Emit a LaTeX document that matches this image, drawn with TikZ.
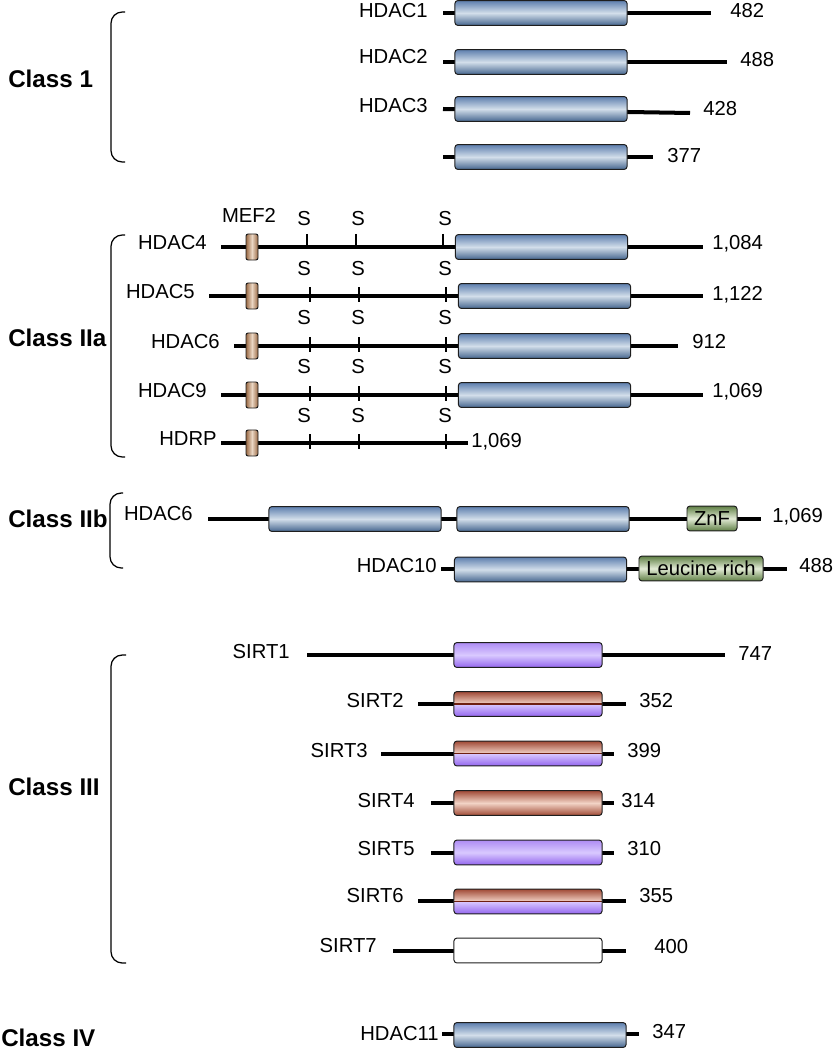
\documentclass[tikz,border=0pt]{standalone}
\usepackage{fontspec}
\setmainfont{Liberation Sans}
\usepackage{xcolor}
\definecolor{domBlueTop}{HTML}{5E7FAE}
\definecolor{domBlueMid}{HTML}{D2DEEA}
\definecolor{domBlueBot}{HTML}{46668F}
\definecolor{sirtPurpleTop}{HTML}{AE8CF4}
\definecolor{sirtPurpleMid}{HTML}{D9C9FF}
\definecolor{sirtPurpleBot}{HTML}{9366EE}
\definecolor{sirtSalmonEdge}{HTML}{A04A36}
\definecolor{sirtSalmonMid}{HTML}{F2D3C6}
\definecolor{mefBrownEdge}{HTML}{9A6A45}
\definecolor{mefBrownMid}{HTML}{EAD6C3}
\definecolor{znfGreenEdge}{HTML}{5F7F45}
\definecolor{znfGreenMid}{HTML}{E2EBD5}
\definecolor{boxBorder}{HTML}{1E1E1E}
\definecolor{dividerRed}{HTML}{6E1F10}
\usetikzlibrary{positioning}
\tikzset{
    backbone/.style={
        line width=2.85pt,
        color=black
    },
    sitetick/.style={
        line width=0.8pt,
        color=black
    },
    bracket/.style={
        line width=0.9pt,
        rounded corners=8pt
    },
    domainbox/.style={
        draw=boxBorder,
        line width=0.7pt,
        rectangle,
        rounded corners=2pt,
        inner sep=0pt,
        minimum width=4.3cm,
        minimum height=0.62cm
    },
    hdacdom/.style={
        domainbox,
        top color=domBlueTop,
        bottom color=domBlueBot,
        middle color=domBlueMid
    },
    sirtdom/.style={
        domainbox,
        minimum width=3.7cm,
        top color=sirtPurpleTop,
        bottom color=sirtPurpleBot,
        middle color=sirtPurpleMid
    },
    salmondom/.style={
        domainbox,
        minimum width=3.7cm,
        top color=sirtSalmonEdge,
        bottom color=sirtSalmonEdge,
        middle color=sirtSalmonMid
    },
    splitdom/.style={
        domainbox,
        minimum width=3.7cm,
        fill=white,
        path picture={
            \shade[top color=sirtSalmonEdge, bottom color=sirtSalmonEdge, middle color=sirtSalmonMid]
                (path picture bounding box.north west) rectangle (path picture bounding box.east);
            \shade[top color=sirtPurpleMid, bottom color=sirtPurpleBot]
                (path picture bounding box.west) rectangle (path picture bounding box.south east);
            \draw[color=dividerRed, line width=0.9pt]
                (path picture bounding box.west) -- (path picture bounding box.east);
        }
    },
    emptydom/.style={
        domainbox,
        minimum width=3.7cm,
        fill=white
    },
    mefbox/.style={
        domainbox,
        rounded corners=1.5pt,
        minimum width=0.3cm,
        minimum height=0.65cm,
        left color=mefBrownEdge,
        right color=mefBrownEdge,
        middle color=mefBrownMid
    },
    greendom/.style={
        domainbox,
        top color=znfGreenEdge,
        bottom color=znfGreenEdge,
        middle color=znfGreenMid,
        font=\fontsize{14.4}{17}\selectfont
    },
    protein/.style={
        font=\fontsize{14.4}{17}\selectfont,
        anchor=base east,
        inner sep=0pt
    },
    sizetext/.style={
        font=\fontsize{14.4}{17}\selectfont,
        anchor=base west,
        inner sep=0pt
    },
    site/.style={
        font=\fontsize{14.4}{17}\selectfont,
        anchor=base,
        inner sep=0pt
    },
    classname/.style={
        font=\fontsize{17.2}{20}\selectfont\bfseries,
        anchor=base west,
        inner sep=0pt
    }
}

\begin{document}
\begin{tikzpicture}[x=0.025cm, y=-0.025cm]
    \useasboundingbox (0,0) rectangle (833,1050);

    % Class 1
    \node[classname] (classone) at (8,88) {Class 1};
    \draw[bracket] (125,12) -- (111,12) -- (111,162) -- (125,162);
    \draw[backbone] (443,13) coordinate (h1a) -- (711,13) coordinate (h1b);
    \node[hdacdom] (h1dom) at (541,13) {};
    \node[protein] (h1name) at (428,18) {HDAC1};
    \node[sizetext] (h1size) at (730,18) {482};
    \draw[backbone] (443,62) coordinate (h2a) -- (727,62) coordinate (h2b);
    \node[hdacdom] (h2dom) at (541,62) {};
    \node[protein] (h2name) at (428,64) {HDAC2};
    \node[sizetext] (h2size) at (740,67) {488};
    \draw[backbone] (443,109) coordinate (h3a) -- (690,113) coordinate (h3b);
    \node[hdacdom] (h3dom) at (541,109) {};
    \node[protein] (h3name) at (428,113) {HDAC3};
    \node[sizetext] (h3size) at (703,116) {428};
    \draw[backbone] (443,157) coordinate (h8a) -- (653,157) coordinate (h8b);
    \node[hdacdom] (h8dom) at (541,157) {};
    \node[sizetext] (h8size) at (667,163) {377};

    % Class IIa
    \node[classname] (classtwoa) at (8,346) {Class IIa};
    \draw[bracket] (125,235) -- (111,235) -- (111,457) -- (125,457);
    \node[site] (mef) at (249,223) {MEF2};
    \foreach \y in {226,275,324,373,422}
        \foreach \x in {304,358,445}
            \node[site] (s\x\y) at (\x,\y) {S};
    \draw[backbone] (221,247) coordinate (h4a) -- (703,247) coordinate (h4b);
    \draw[backbone] (209,296) coordinate (h5a) -- (703,296) coordinate (h5b);
    \draw[backbone] (234,346) coordinate (h6a) -- (678,346) coordinate (h6b);
    \draw[backbone] (221,395) coordinate (h9a) -- (703,395) coordinate (h9b);
    \draw[backbone] (221,443) coordinate (hra) -- (468,443) coordinate (hrb);
    \foreach \x in {307,356,443}
        \draw[sitetick] (\x,234) -- (\x,247);
    \foreach \y in {296,346,395,443}
        \foreach \x in {310,359,446}
            \draw[sitetick] (\x,\y-9) -- (\x,\y+6);
    \foreach \y in {247,296,346,395,443}
        \node[mefbox] (mef\y) at (252,\y) {};
    \node[hdacdom] (h4dom) at (541.5,247) {};
    \node[hdacdom] (h5dom) at (544.5,296) {};
    \node[hdacdom] (h6dom) at (544.5,346) {};
    \node[hdacdom] (h9dom) at (544.5,395) {};
    \node[protein] (h4name) at (207,250) {HDAC4};
    \node[protein] (h5name) at (195,298) {HDAC5};
    \node[protein] (h6name) at (220,348) {HDAC6};
    \node[protein] (h9name) at (207,397) {HDAC9};
    \node[protein] (hrname) at (217,445) {HDRP};
    \node[sizetext] (h4size) at (712,250) {1,084};
    \node[sizetext] (h5size) at (712,300) {1,122};
    \node[sizetext] (h6size) at (692,348) {912};
    \node[sizetext] (h9size) at (712,397) {1,069};
    \node[sizetext] (hrsize) at (471,447) {1,069};

    % Class IIb
    \node[classname] (classtwob) at (8,527) {Class IIb};
    \draw[bracket] (123,493) -- (110,493) -- (110,568) -- (123,568);
    \draw[backbone] (208,519) coordinate (hba) -- (761,519) coordinate (hbb);
    \node[hdacdom] (hbdomone) at (355,519) {};
    \node[hdacdom] (hbdomtwo) at (543,519) {};
    \node[greendom, minimum width=1.25cm] (znf) at (712,518.5) {ZnF};
    \node[protein] (hbname) at (193,520) {HDAC6};
    \node[sizetext] (hbsize) at (772,522) {1,069};
    \draw[backbone] (441,569) coordinate (h10a) -- (787,569) coordinate (h10b);
    \node[hdacdom] (h10dom) at (540.5,569.5) {};
    \node[greendom, minimum width=3.1cm] (leurich) at (701,568.5) {Leucine rich};
    \node[protein] (h10name) at (437,572) {HDAC10};
    \node[sizetext] (h10size) at (799,572) {488};

    % Class III
    \node[classname] (classthree) at (8,795) {Class III};
    \draw[bracket] (126,655) -- (111,655) -- (111,963) -- (126,963);
    \draw[backbone] (307,655) coordinate (s1a) -- (725,655) coordinate (s1b);
    \draw[backbone] (418,704) coordinate (s2a) -- (626,704) coordinate (s2b);
    \draw[backbone] (381,754) coordinate (s3a) -- (614,754) coordinate (s3b);
    \draw[backbone] (431,803) coordinate (s4a) -- (614,803) coordinate (s4b);
    \draw[backbone] (431,853) coordinate (s5a) -- (614,853) coordinate (s5b);
    \draw[backbone] (418,901) coordinate (s6a) -- (626,901) coordinate (s6b);
    \draw[backbone] (393,951) coordinate (s7a) -- (626,951) coordinate (s7b);
    \node[sirtdom] (s1dom) at (528,655) {};
    \node[splitdom] (s2dom) at (528,704) {};
    \node[splitdom] (s3dom) at (528,753.5) {};
    \node[salmondom] (s4dom) at (528,803) {};
    \node[sirtdom] (s5dom) at (528,852.5) {};
    \node[splitdom] (s6dom) at (528,901.5) {};
    \node[emptydom] (s7dom) at (528,950.5) {};
    \node[protein] (s1name) at (290,658) {SIRT1};
    \node[protein] (s2name) at (404,707) {SIRT2};
    \node[protein] (s3name) at (368,757) {SIRT3};
    \node[protein] (s4name) at (415,807) {SIRT4};
    \node[protein] (s5name) at (415,855) {SIRT5};
    \node[protein] (s6name) at (404,902) {SIRT6};
    \node[protein] (s7name) at (377,952) {SIRT7};
    \node[sizetext] (s1size) at (738,660) {747};
    \node[sizetext] (s2size) at (639,707) {352};
    \node[sizetext] (s3size) at (627,757) {399};
    \node[sizetext] (s4size) at (621,807) {314};
    \node[sizetext] (s5size) at (627,855) {310};
    \node[sizetext] (s6size) at (639,902) {355};
    \node[sizetext] (s7size) at (654,953) {400};

    % Class IV
    \node[classname] (classfour) at (1,1046) {Class IV};
    \draw[backbone] (442,1034) coordinate (h11a) -- (639,1034) coordinate (h11b);
    \node[hdacdom] (h11dom) at (540,1035) {};
    \node[protein] (h11name) at (439,1040) {HDAC11};
    \node[sizetext] (h11size) at (652,1038) {347};
\end{tikzpicture}
\end{document}
